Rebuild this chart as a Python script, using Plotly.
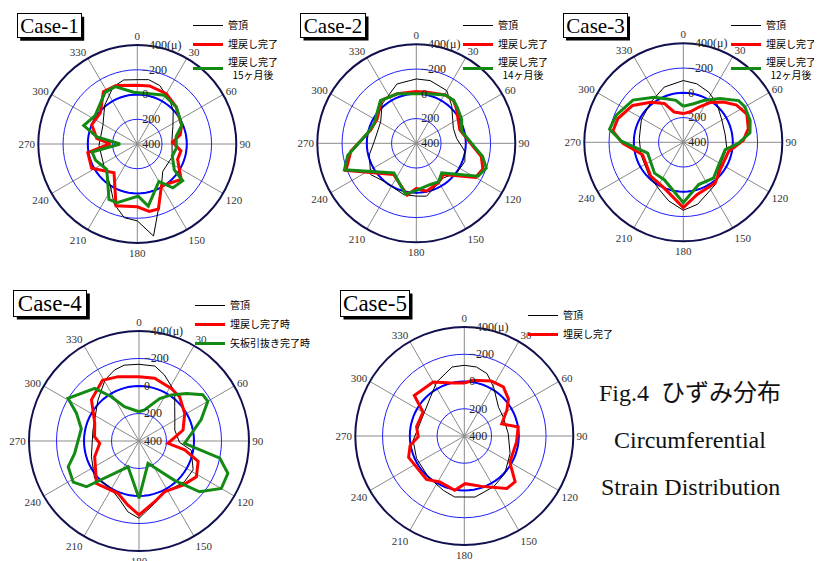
import plotly.graph_objects as go

# the page body has an 8px default margin; the figure is sized to fill the rest of the window
OFF = 8
W, H = 822 - OFF, 561 - OFF

# ---------------- data (theta in deg, strain in micro) ----------------
c1_top_t = [0, 10, 21, 37, 47, 64, 83, 110, 137, 158, 170, 180, 190, 201, 214, 238, 268, 298, 320, 337, 348]
c1_top_v = [-120, -128, -106, -38, 3, 80, 118, 100, 98, -90, -355, -221, -205, -120, 5, 80, 90, 85, -10, -100, -129]
c1_fill_t = [0, 12, 30, 46, 67, 78, 87, 99, 111, 129, 150, 162, 170, 180, 199, 219, 242, 260, 270.5, 278, 293, 310, 327, 340]
c1_fill_v = [-75, -80, -69, -35, 11, 45, 115, 43, 51, -56, 10, -152, -153, -107, -128, 101, -18, -6, 181, 69, 0, 10, -103, -103]
c1_later_t = [14, 29, 46.5, 67, 79, 96, 109, 125, 129, 141, 150, 170, 179, 199, 207, 230, 249, 260, 270, 280, 289, 304, 328, 339, 356]
c1_later_v = [-18, -50, -34, 8, 80, 83, 101, 35, -72, -56, 51, -109, -21, -102, -104, 78, 38, 29, 261, 69, -58, -11, -92, -97, -20]

c2_top_t = [0, 12.5, 30, 43, 68, 83, 99.6, 110.5, 126, 142, 169, 180, 194, 220, 235.5, 256, 272, 301, 319, 342]
c2_top_v = [-120, -119, -92, -19, 77, 72, 2, -19, -5, 45, -35, -27, -26, -3, -47, 8, 59, 64, -21, -104]
c2_fill_t = [0, 12, 31, 41, 49, 73, 93, 101.5, 111, 120, 139, 151, 168, 180, 190, 216, 249, 253, 263, 286, 302, 321, 339]
c2_fill_v = [-19, -22, -56, -58, -29, 32, -59, -136, -176, -153, 67, 34, 4, 35, -25, 88, -210, -181, -133, 16, 27, -48, -29]
c2_later_t = [0, 12, 31, 41, 49, 62, 75, 93, 101, 109.5, 118, 139.4, 150, 161, 180, 192, 217, 249.8, 260, 281.5, 295, 320, 339]
c2_later_v = [0, -10, -56, -60, -40, -15, 20, -68, -145, -200, -165, 85, 40, 48, 19, -20, 99, -219, -163, -3, 24, -51, -29]

c3_top_t = [0, 13, 27, 41, 60, 80, 98, 128, 143, 167, 180, 194, 205, 225, 254, 275, 298, 321, 341]
c3_top_v = [-99, -85, -54, -14, 40, 56, 45, 40, -29, -114, -149, -88, -35, 11, 43, 43, 16, -17, -72]
c3_fill_t = [0, 13, 24, 34, 45, 55, 66, 78, 88, 101.5, 126.5, 142, 165, 180, 203, 224, 253, 269, 279, 290, 306, 321, 334, 343]
c3_fill_v = [168, 147, 88, 13, -60, -125, -162, -137, -86, 27, 29, -18, -36, -128, 0, 21, 56, -88, -176, -162, -106, -17, 51, 144]
c3_later_t = [0, 15, 26, 40, 53, 60, 72, 82, 91, 100, 122, 140, 160, 180, 207, 223, 253, 271, 280, 292, 310, 327, 340, 350]
c3_later_v = [109, 77, 24, -61, -160, -174, -168, -144, -45, 56, 61, 21, 37, -88, 61, 59, 99, -101, -205, -184, -131, -34, 27, 56]

c4_top_t = [0, 12, 21, 36, 46, 60, 73, 92, 100, 118, 132, 155, 166, 180, 189, 198, 213, 230, 252, 283, 315, 331, 341, 349]
c4_top_v = [-158, -157, -115, -43, 39, 99, 128, 105, 14, -46, -44, -19, -68, -162, -121, -51, 5, -22, 36, 56, -22, -109, -146, -162]
c4_fill_t = [0, 14, 31.5, 42.5, 59, 76, 94.6, 101, 109, 122, 135, 153, 165.5, 180, 190, 202, 225, 250.5, 266.6, 275.6, 292, 311, 329, 342]
c4_fill_v = [-68, -70, -49, -37, 12, 70, 189, 61, -55, -92, -53, -13, -56, -138, -72, -10, -37, 58, 114, 75, 53, -58, -115, -92]
c4_pull_t = [0, 10, 26, 35, 45, 54, 60, 71, 80, 93, 102, 110, 120, 130, 138, 158, 180, 203, 229, 238, 250, 259, 282, 294, 301, 320, 328, 337]
c4_pull_v = [187, 170, 56, -9, -89, -173, -178, -78, 2, 68, -201, -288, -291, -175, 15, 225, -17, 196, -107, -164, -148, -77, -29, -98, -202, -100, 20, 129]

c5_top_t = [0, 10, 20, 31, 50, 64, 87, 111, 133, 150, 170, 189, 201, 221, 245, 265, 286, 317, 333, 350]
c5_top_v = [-119, -114, -87, -18, 72, 82, 77, 40, -6, -30, -55, -53, -28, -1, 13, 23, 62, 28, -45, -114]
c5_fill_t = [0, 9, 26, 38.5, 50, 59, 72, 80.5, 96.5, 120, 132, 141, 161, 179, 190, 208, 221, 249, 260, 269, 281, 300, 309, 330, 347]
c5_fill_v = [11, -14, -50, -60, -23, 36, 111, -1, 14, 14, -102, -96, 9, 50, -4, 18, -23, -38, -4, 62, 43, 51, -72, -57, 1]

ring_t = list(range(0, 361, 5))
ring_v = [0] * len(ring_t)

tick_vals = [400, 200, 0, -200, -400]
tick_text = ["400", "200", "0", "\u2212200", "\u2212400(\u03bc)"]
ang_vals = list(range(0, 360, 30))
ang_text = [str(a) for a in ang_vals]

names_top = "管頂"
names_fill = "埋戻し完了"
names_fill4 = "埋戻し完了時"
names_pull4 = "矢板引抜き完了時"

# ---------------- layout helpers ----------------
SERIF = "Liberation Serif, Times New Roman, serif"
JP = "Noto Sans CJK JP, sans-serif"


def fx(px):
    return (px - OFF) / W


def fy(py):
    return (H - (py - OFF)) / H


def dom(cx, cy, R):
    return dict(x=[fx(cx - R), fx(cx + R)], y=[fy(cy + R), fy(cy - R)])


def polar_cfg(cx, cy, R):
    return dict(
        domain=dom(cx, cy, R),
        bgcolor="rgba(0,0,0,0)",
        radialaxis=dict(range=[400, -400], tickvals=tick_vals, ticktext=tick_text,
                        angle=90, side="clockwise", tickangle=90, showline=False,
                        ticks="outside", ticklen=2, tickcolor="rgba(0,0,0,0)",
                        gridcolor="#2020ff", gridwidth=1,
                        tickfont=dict(family=SERIF, size=12, color="#222")),
        angularaxis=dict(direction="clockwise", rotation=90, tickmode="array",
                         tickvals=ang_vals, ticktext=ang_text, ticks="",
                         showline=True, linecolor="#101050", linewidth=2,
                         gridcolor="#8a8a8a", gridwidth=1,
                         tickfont=dict(family=SERIF, size=11, color="#333")),
    )


def closed(a):
    return list(a) + [a[0]]


fig = go.Figure()

cases = [
    ("polar", "legend", [(names_top, c1_top_t, c1_top_v, "black", 1),
                          (names_fill, c1_fill_t, c1_fill_v, "#ff0000", 3),
                          (names_fill + "<br>  15ヶ月後", c1_later_t, c1_later_v, "#138a13", 3)]),
    ("polar2", "legend2", [(names_top, c2_top_t, c2_top_v, "black", 1),
                            (names_fill, c2_fill_t, c2_fill_v, "#ff0000", 3),
                            (names_fill + "<br>  14ヶ月後", c2_later_t, c2_later_v, "#138a13", 3)]),
    ("polar3", "legend3", [(names_top, c3_top_t, c3_top_v, "black", 1),
                            (names_fill, c3_fill_t, c3_fill_v, "#ff0000", 3),
                            (names_fill + "<br>  12ヶ月後", c3_later_t, c3_later_v, "#138a13", 3)]),
    ("polar4", "legend4", [(names_top, c4_top_t, c4_top_v, "black", 1),
                            (names_fill4, c4_fill_t, c4_fill_v, "#ff0000", 3),
                            (names_pull4, c4_pull_t, c4_pull_v, "#138a13", 3)]),
    ("polar5", "legend5", [(names_top, c5_top_t, c5_top_v, "black", 1),
                            (names_fill, c5_fill_t, c5_fill_v, "#ff0000", 3)]),
]

for sp, lg, series in cases:
    fig.add_trace(go.Scatterpolar(r=ring_v, theta=ring_t, mode="lines", subplot=sp,
                                  line=dict(color="#0000ff", width=2), showlegend=False,
                                  hoverinfo="skip"))
    for name, t, v, col, w in series:
        fig.add_trace(go.Scatterpolar(r=closed(v), theta=closed(t), mode="lines", name=name,
                                      subplot=sp, legend=lg,
                                      line=dict(color=col, width=w)))

layout = dict(
    width=W, height=H, margin=dict(l=0, r=0, t=0, b=0, autoexpand=False),
    paper_bgcolor="white", plot_bgcolor="white",
    polar=polar_cfg(137.3, 144, 99),
    polar2=polar_cfg(416.3, 143.3, 99),
    polar3=polar_cfg(683.3, 142.3, 99),
    polar4=polar_cfg(139, 441, 110),
    polar5=polar_cfg(464.3, 436, 109),
)

leg_pos = {"legend": (188, 11), "legend2": (458, 11), "legend3": (726, 11),
           "legend4": (190, 291), "legend5": (523, 301)}
for k, (px, py) in leg_pos.items():
    layout[k] = dict(x=fx(px), y=fy(py), xanchor="left", yanchor="top",
                     bgcolor="rgba(0,0,0,0)", tracegroupgap=0,
                     font=dict(family=JP, size=10, color="black"))

fig.update_layout(**layout)

# Case title boxes: (text, centre x, centre y, box width, box height, font size)
titles = [("Case-1", 49.2, 25.8, 61, 21, 21), ("Case-2", 333, 25.5, 62, 21, 21),
          ("Case-3", 595, 25.5, 61, 21, 21),
          ("Case-4", 50.3, 303.4, 70, 23, 23), ("Case-5", 375, 303.5, 66, 23, 23)]
for txt, cx, cy, bw, bh, fs in titles:
    ow, oh = bw + 3, bh + 3
    fig.add_shape(type="rect", xref="paper", yref="paper", layer="above",
                  x0=fx(cx - ow / 2 + 3), x1=fx(cx + ow / 2 + 3),
                  y0=fy(cy + oh / 2 + 3), y1=fy(cy - oh / 2 + 3),
                  fillcolor="black", line=dict(width=0))
    fig.add_annotation(x=fx(cx), y=fy(cy), xref="paper", yref="paper",
                       xanchor="center", yanchor="middle", width=bw, height=bh,
                       text=txt, showarrow=False,
                       font=dict(family=SERIF, size=fs, color="black"),
                       bgcolor="white", bordercolor="black", borderwidth=1, borderpad=1)

for txt, py in [("Fig.4  ひずみ分布", 393), ("Circumferential", 440), ("Strain Distribution", 487)]:
    fig.add_annotation(x=fx(690), y=fy(py), xref="paper", yref="paper", text=txt,
                       xanchor="center", yanchor="middle",
                       showarrow=False, font=dict(family=SERIF + ", Noto Sans CJK JP", size=24, color="#111"))

fig.write_html("out.html")
